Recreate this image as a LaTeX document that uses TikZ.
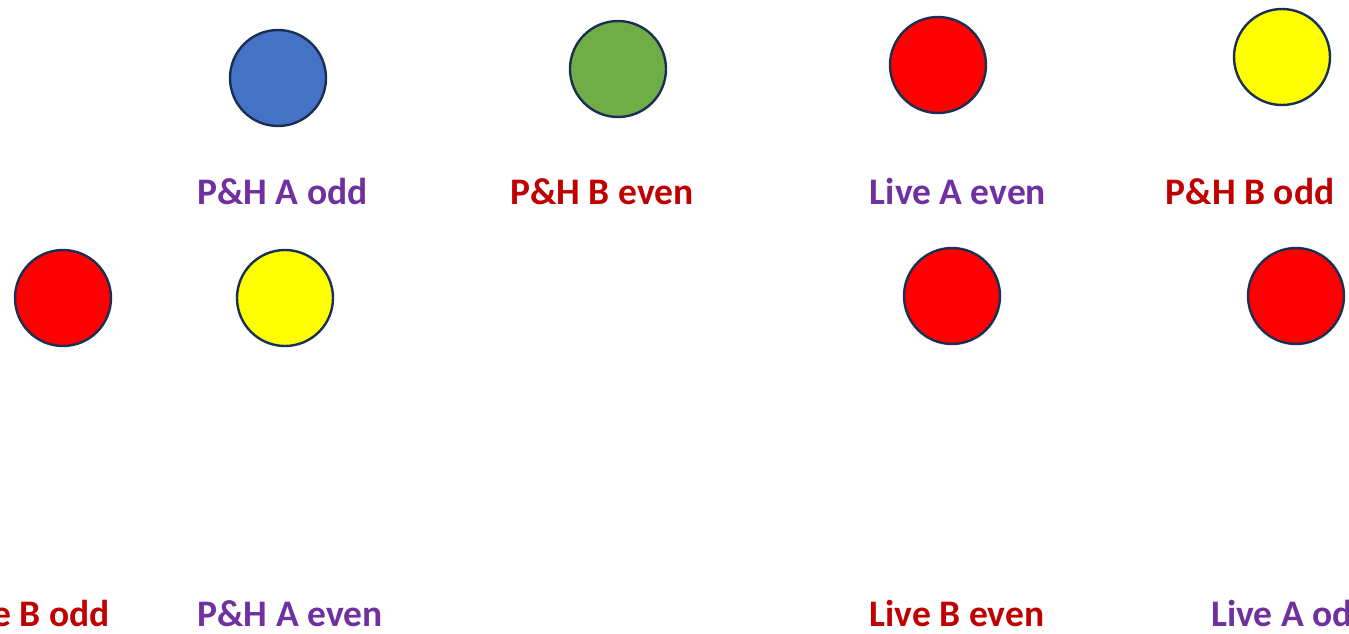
\documentclass[tikz,border=0pt]{standalone}
\usepackage{fontspec}
\setmainfont{Carlito}
\definecolor{cblue}{HTML}{4472C4}
\definecolor{cgreen}{HTML}{70AD47}
\definecolor{cred}{HTML}{FF0000}
\definecolor{cyellow}{HTML}{FFFF00}
\definecolor{cline}{HTML}{1A2F55}
\definecolor{tpurple}{HTML}{7030A0}
\definecolor{tred}{HTML}{C00000}
\begin{document}
\begin{tikzpicture}[x=1pt,y=-1pt,
  dot/.style={circle,draw=cline,line width=2.4pt,minimum size=96pt,inner sep=0pt},
  lbl/.style={font=\fontsize{37.5}{44}\selectfont\bfseries,inner sep=0pt,anchor=base}]
\useasboundingbox (0,0) rectangle (1349,634);
\clip (0,0) rectangle (1349,634);
\node[dot,fill=cblue] (c1) at (278,78) {};
\node[dot,fill=cgreen] (c2) at (618,69) {};
\node[dot,fill=cred] (c3) at (938,65) {};
\node[dot,fill=cyellow] (c4) at (1282,57) {};
\node[dot,fill=cred] (c5) at (63,298) {};
\node[dot,fill=cyellow] (c6) at (285,298) {};
\node[dot,fill=cred] (c7) at (952,296) {};
\node[dot,fill=cred] (c8) at (1296,296) {};
\node[lbl,text=tpurple] (t1) at (282.5,204) {P\&H A odd};
\node[lbl,text=tred] (t2) at (602,204) {P\&H B even};
\node[lbl,text=tpurple] (t3) at (958,204) {Live A even};
\node[lbl,text=tred] (t4) at (1250,204) {P\&H B odd};
\node[lbl,text=tred,anchor=base east] (t5) at (110,626) {Live B odd};
\node[lbl,text=tpurple] (t6) at (290,626) {P\&H A even};
\node[lbl,text=tred] (t7) at (957,626) {Live B even};
\node[lbl,text=tpurple,anchor=base west] (t8) at (1211,626) {Live A odd};
\end{tikzpicture}
\end{document}
